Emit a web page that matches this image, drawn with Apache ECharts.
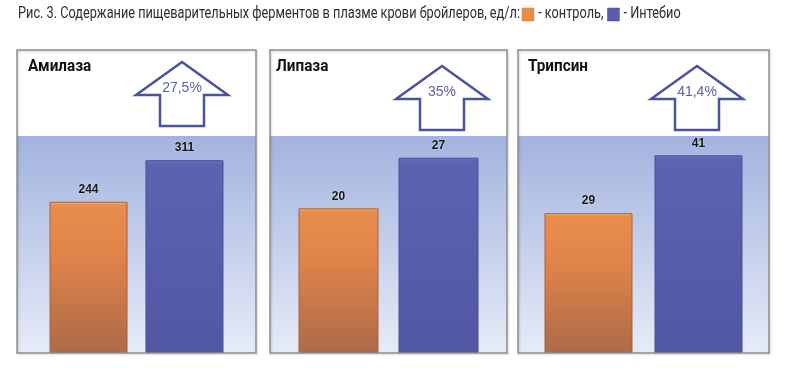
<!DOCTYPE html>
<html>
<head>
<meta charset="utf-8">
<script src="https://cdn.jsdelivr.net/npm/echarts@6/dist/echarts.min.js"></script>
<style>
  html, body { margin: 0; padding: 0; background: #fff; }
  #chart { width: 787px; height: 373px; }
</style>
</head>
<body>
<div id="chart"></div>
<script>
// ---- data ----
const panels = ['Амилаза', 'Липаза', 'Трипсин'];
const seriesNames = ['контроль', 'Интебио'];
const control = [244, 20, 29];
const intebio = [311, 27, 41];
const yMax = [350, 30, 45];
const increase = ['27,5%', '35%', '41,4%'];
const titleText = 'Рис. 3. Содержание пищеварительных ферментов в плазме крови бройлеров, ед/л:';

// ---- layout (styles only) ----
const boxes = [
  { left: 17, right: 256 },
  { left: 270, right: 507 },
  { left: 518, right: 769 }
];
const boxTop = 50, plotTop = 136, plotBottom = 353;
const barWidths = [78, 80, 88];
const barGaps = ['23%', '25%', '25%'];
const arrowPos = [[182, 62], [442, 66], [697, 66]];
const legendColors = ['#e68d4e', '#5a5ea9'];

const headFont = '17px Roboto';
const headFamily = 'Roboto, sans-serif';
const measure = (() => {
  const c = document.createElement('canvas').getContext('2d');
  return (t, font) => { c.font = font; return c.measureText(t).width; };
})();

const orangeGrad = new echarts.graphic.LinearGradient(0, 0, 0, 1, [
  { offset: 0, color: '#f8c074' },
  { offset: 0.02, color: '#e98d4d' },
  { offset: 0.35, color: '#e0844a' },
  { offset: 1, color: '#ae6a47' }
]);
const blueGrad = new echarts.graphic.LinearGradient(0, 0, 0, 1, [
  { offset: 0, color: '#6b72bd' },
  { offset: 0.02, color: '#5c63b2' },
  { offset: 1, color: '#5257a4' }
]);
const bgGrad = () => new echarts.graphic.LinearGradient(0, 0, 0, 1, [
  { offset: 0, color: '#a2b3df' },
  { offset: 1, color: '#e6ebf7' }
]);

const grids = [], xAxes = [], yAxes = [], series = [], graphics = [];

// ---- header line: title + legend (condensed by horizontal scale) ----
const titleW = measure(titleText, headFont);
const s = 502 / titleW;
let cx0 = 18;
const headText = (txt, x) => ({
  type: 'text', x: x, y: 14, scaleX: s, z: 100,
  style: { text: txt, fill: '#2e2e2e', fontSize: 17, fontFamily: headFamily,
    textVerticalAlign: 'middle', verticalAlign: 'middle' }
});
graphics.push(headText(titleText, cx0));
cx0 += titleW * s + 2;
seriesNames.forEach((n, k) => {
  graphics.push({
    type: 'rect', z: 100, shape: { x: cx0, y: 8, width: 12, height: 13 },
    style: { fill: legendColors[k], stroke: k ? '#4a4e93' : '#cf7b41', lineWidth: 0.5 }
  });
  cx0 += 12 + 1;
  const t = ' - ' + n + (k === 0 ? ',' : '');
  graphics.push(headText(t, cx0));
  cx0 += measure(t, headFont) * s + 4;
});

panels.forEach((p, i) => {
  const b = boxes[i];
  grids.push({
    left: b.left, width: b.right - b.left, top: plotTop, height: plotBottom - plotTop,
    show: true, backgroundColor: bgGrad(), borderWidth: 0
  });
  xAxes.push({
    gridIndex: i, type: 'category', data: [p],
    axisLine: { show: false }, axisTick: { show: false }, axisLabel: { show: false }
  });
  yAxes.push({
    gridIndex: i, type: 'value', min: 0, max: yMax[i],
    show: false, splitLine: { show: false }
  });
  const lbl = {
    show: true, position: 'top', distance: 6,
    fontFamily: 'Liberation Sans, Arial, sans-serif', fontWeight: 'bold', fontSize: 12,
    color: '#151515', textShadowColor: 'rgba(255,255,255,0.6)', textShadowBlur: 2
  };
  series.push({
    name: seriesNames[0], type: 'bar', xAxisIndex: i, yAxisIndex: i,
    data: [control[i]], barWidth: barWidths[i], barGap: barGaps[i],
    itemStyle: { color: orangeGrad, borderColor: '#a5643f', borderWidth: 1 },
    label: lbl
  });
  series.push({
    name: seriesNames[1], type: 'bar', xAxisIndex: i, yAxisIndex: i,
    data: [intebio[i]], barWidth: barWidths[i], barGap: barGaps[i],
    itemStyle: { color: blueGrad, borderColor: '#4a4f98', borderWidth: 1 },
    label: lbl
  });

  // panel frame
  graphics.push({
    type: 'rect', z: 100,
    shape: { x: b.left, y: boxTop, width: b.right - b.left, height: plotBottom - boxTop },
    style: { fill: null, stroke: '#8e8e8e', lineWidth: 1.5,
      shadowColor: 'rgba(0,0,0,0.18)', shadowBlur: 2, shadowOffsetX: 1, shadowOffsetY: 1 }
  });
  // panel title
  graphics.push({
    type: 'text', z: 100, x: [28, 276, 528][i], y: 67, scaleX: 0.9,
    style: {
      text: p, fill: '#111', fontSize: 17, fontWeight: 'bold',
      fontFamily: 'Roboto, "Open Sans", sans-serif',
      textVerticalAlign: 'middle', verticalAlign: 'middle'
    }
  });
  // arrow
  const [cx, ty] = arrowPos[i];
  graphics.push({
    type: 'polygon', z: 100,
    shape: { points: [
      [cx, ty], [cx + 46, ty + 33], [cx + 22, ty + 33], [cx + 22, ty + 64],
      [cx - 22, ty + 64], [cx - 22, ty + 33], [cx - 46, ty + 33]
    ] },
    style: { fill: '#fff', stroke: '#4a52a2', lineWidth: 2.5, lineJoin: 'miter' }
  });
  graphics.push({
    type: 'text', z: 101, x: cx, y: ty + 26,
    style: {
      text: increase[i], fill: '#5a60ac', fontSize: 14,
      fontFamily: 'Liberation Sans, Arial, sans-serif',
      textAlign: 'center', align: 'center',
      textVerticalAlign: 'middle', verticalAlign: 'middle'
    }
  });
});

const chart = echarts.init(document.getElementById('chart'));
chart.setOption({
  animation: false,
  backgroundColor: '#fff',
  grid: grids,
  xAxis: xAxes,
  yAxis: yAxes,
  series: series,
  graphic: graphics
});
</script>
</body>
</html>
